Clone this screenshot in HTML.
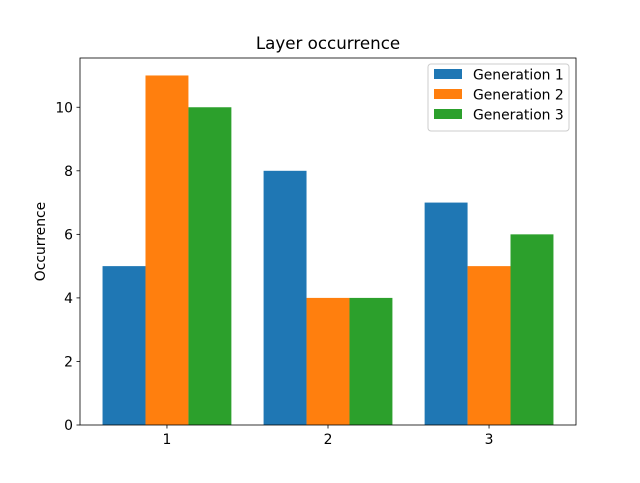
<!DOCTYPE html>
<html><head><meta charset="utf-8"><style>
body{margin:0;background:#fff;}
svg text{font-family:"DejaVu Sans","Liberation Sans",sans-serif;fill:#000;}
</style></head><body>
<svg id="chart" width="640" height="478" xmlns="http://www.w3.org/2000/svg">
<rect width="640" height="478" fill="#fff"/>
<g id="bars"></g>
<g id="axes"></g>
</svg>
<script>
const categories = [1, 2, 3];
const gen1 = [5, 8, 7];
const gen2 = [11, 4, 5];
const gen3 = [10, 4, 6];
const seriesNames = ["Generation 1", "Generation 2", "Generation 3"];
const yTicks = [0, 2, 4, 6, 8, 10];

const colors = ["#1f77b4", "#ff7f0e", "#2ca02c"];
const L = 80, R = 576, T = 58, B = 425;
const xmin = 0.46, xmax = 3.54, ymax = 11.55;
const xs = v => L + (v - xmin) / (xmax - xmin) * (R - L);
const ys = v => B - v / ymax * (B - T);
const NS = "http://www.w3.org/2000/svg";
function mk(tag, attrs, parent, text) {
  const e = document.createElementNS(NS, tag);
  for (const k in attrs) e.setAttribute(k, attrs[k]);
  if (text !== undefined) e.textContent = text;
  parent.appendChild(e);
  return e;
}
const barsG = document.getElementById("bars");
const axesG = document.getElementById("axes");
const series = [gen1, gen2, gen3];
const w = 0.8 / 3;
series.forEach((s, si) => {
  s.forEach((v, i) => {
    const x0 = xs(categories[i] + (si - 1) * w - w / 2);
    const x1 = xs(categories[i] + (si - 1) * w + w / 2);
    const r = mk("rect", {x: x0, y: ys(v), width: x1 - x0, height: ys(0) - ys(v), fill: colors[si]}, barsG);
    
    
  });
});
const fr = mk("rect", {x: L, y: T, width: R - L, height: B - T, fill: "none", stroke: "#000", "stroke-width": 0.8}, axesG);


yTicks.forEach(t => {
  const y = ys(t);
  mk("line", {x1: L - 3.5, x2: L, y1: y, y2: y, stroke: "#000", "stroke-width": 0.8}, axesG);
  const tx = mk("text", {x: L - 7, y: y + 5, "text-anchor": "end", "font-size": 13.9}, axesG, t);
  
  
});
categories.forEach(c => {
  const x = xs(c);
  mk("line", {x1: x, x2: x, y1: B, y2: B + 3.5, stroke: "#000", "stroke-width": 0.8}, axesG);
  const tx = mk("text", {x: x, y: B + 19, "text-anchor": "middle", "font-size": 13.9}, axesG, c);
  
  
});
const yt = mk("text", {x: 45, y: (T + B) / 2, "text-anchor": "middle", "font-size": 13.9, transform: `rotate(-90 45 ${(T + B) / 2})`}, axesG, "Occurrence");


const ti = mk("text", {x: (L + R) / 2, y: 49, "text-anchor": "middle", "font-size": 16.7}, axesG, "Layer occurrence");


const lg = mk("g", {}, axesG);


mk("rect", {x: 428, y: 64, width: 141, height: 67, rx: 3, fill: "#fff", stroke: "#ccc", "stroke-width": 1}, lg);
seriesNames.forEach((n, i) => {
  const y = 69 + i * 20;
  mk("rect", {x: 434, y: y, width: 28, height: 10, fill: colors[i]}, lg);
  const tx = mk("text", {x: 473, y: y + 10.5, "font-size": 13.9}, lg, n);
  
  
});
</script>
</body></html>
